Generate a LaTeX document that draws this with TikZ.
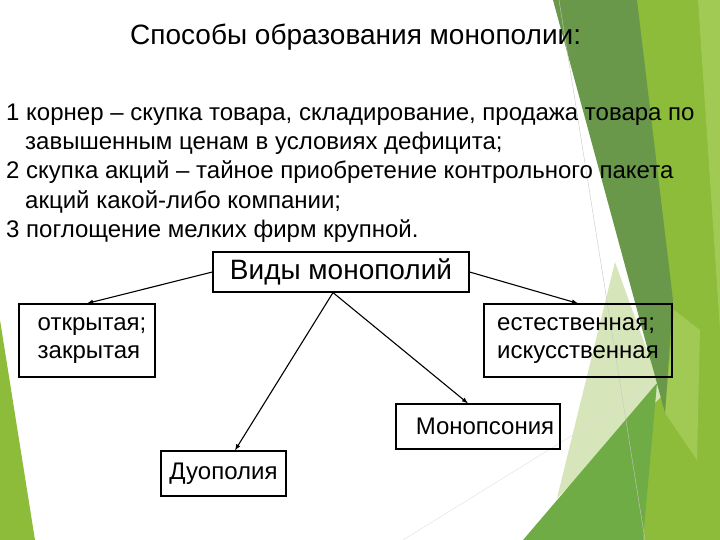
\documentclass[tikz,border=0pt]{standalone}
\usepackage{fontspec}
\setmainfont{Liberation Sans}
\tikzset{>=latex}
\definecolor{facetdark}{RGB}{106,152,74}
\definecolor{facetlime}{RGB}{141,188,58}
\definecolor{facetmid}{RGB}{112,172,70}
\definecolor{facetpale}{RGB}{214,230,186}
\definecolor{facetlight}{RGB}{160,202,84}

\begin{document}
\begin{tikzpicture}[x=1pt, y=-1pt,
    kind/.style={draw, line width=1.2pt, inner sep=0pt, align=left, font=\fontsize{24}{28}\selectfont},
    row/.style={anchor=base west, inner sep=0pt, font=\fontsize{24}{29}\selectfont}]
    \useasboundingbox (0,0) rectangle (720,540);
    % slide decoration
    \fill[facetlime](0, 320)--(35, 540)--(0, 540)--cycle;
    \fill[facetlime](620, 0)--(720, 0)--(720, 540)--(640, 540)--(650, 380)--cycle;
    \fill[facetlight](698, 0)--(720, 0)--(720, 330)--cycle;
    \fill[facetlight](674, 310)--(700, 330)--(697, 460)--(665, 413)--cycle;
    \fill[facetpale](615, 262)--(663, 395)--(557, 498)--cycle;
    \fill[facetdark](553, 0)--(637, 0)--(673, 300)--(665, 413)--cycle;
    \fill[facetmid](523, 540)--(657, 383)--(643, 540)--cycle;
    \draw[gray!45, line width=.4pt](559, 0)--(645, 540);
    \draw[gray!25, line width=.4pt](403, 540)--(657, 383);
    % text
    \node[anchor=base west, inner sep=0pt, font=\fontsize{28}{32}\selectfont](title) at (130, 45){Способы образования монополии:};
    \node[row](way1) at (6, 121){1 корнер – скупка товара, складирование, продажа товара по};
    \node[row](way1b) at (25, 150){завышенным ценам в условиях дефицита;};
    \node[row](way2) at (6, 179){2 скупка акций – тайное приобретение контрольного пакета};
    \node[row](way2b) at (25, 208){акций какой-либо компании;};
    \node[row](way3) at (6, 237){3 поглощение мелких фирм крупной.};
    % boxes
    \node[kind, minimum width=256pt, minimum height=40pt, font=\fontsize{28}{32}\selectfont](kinds) at (341, 272){Виды монополий};
    \node[kind, minimum width=136pt, minimum height=73pt](open) at (87, 340.5){\hspace*{10pt}открытая;\\\hspace*{10pt}закрытая};
    \node[kind, minimum width=188pt, minimum height=73pt](natural) at (578, 340.5){естественная;\\искусственная};
    \node[kind, minimum width=164pt, minimum height=45pt](mono) at (478, 426.5){\hspace*{14pt}Монопсония};
    \node[kind, minimum width=125pt, minimum height=45pt](duo) at (223.5, 473.5){Дуополия};
    \coordinate(fork) at ([xshift=-8pt]kinds.south);
    % arrows
    \draw[->, line width=1.1pt](kinds.west)--(open.north);
    \draw[->, line width=1.1pt](kinds.east)--(natural.north);
    \draw[->, line width=1.1pt](fork)--([xshift=11.5pt]duo.north);
    \draw[->, line width=1.1pt](fork)--([xshift=-10pt]mono.north);
\end{tikzpicture}
\end{document}
